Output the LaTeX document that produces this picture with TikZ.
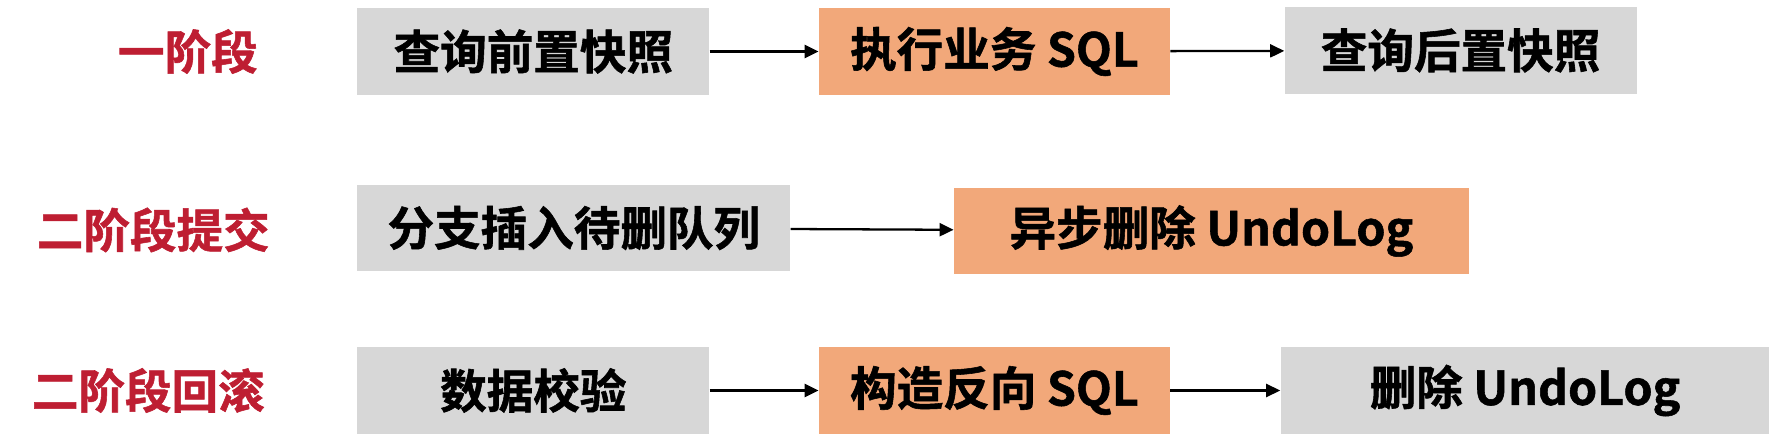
\documentclass[tikz,border=0pt]{standalone}
\usepackage{fontspec}
\setmainfont{Noto Sans CJK SC}[BoldFont={* Bold}, BoldFeatures={FakeBold=1.2}]
\usetikzlibrary{arrows.meta,positioning}
\definecolor{stepgray}{RGB}{215,215,215}
\definecolor{steporange}{RGB}{242,168,122}
\definecolor{phasered}{RGB}{190,30,50}

\begin{document}
\begin{tikzpicture}[
        x=0.02cm, y=-0.02cm,
        % Estilos das caixas
        box/.style={rectangle, minimum height=1.74cm, inner sep=0pt, align=center, font=\fontsize{26.5}{30}\selectfont\bfseries},
        graybox/.style={box, fill=stepgray},
        orangebox/.style={box, fill=steporange},
        % Estilo dos rótulos das fases
        phase/.style={font=\fontsize{26.5}{30}\selectfont\bfseries, text=phasered, inner sep=0pt, anchor=east},
        % Estilo das setas
        flowarrow/.style={-{Triangle[length=2.8mm, width=2.6mm]}, line width=1.3pt, draw=black}
    ]
    \useasboundingbox (0,0) rectangle (1779,442);

    % Primeira fase
    \node[graybox, minimum width=7.04cm, anchor=west] (snapbefore) at (357,51.5) {查询前置快照};
    \node[orangebox, minimum width=7.02cm, right=2.18cm of snapbefore] (bizsql) {执行业务 SQL};
    \node[graybox, minimum width=7.04cm, right=2.28cm of bizsql, yshift=0.02cm] (snapafter) {查询后置快照};

    % Segunda fase: commit
    \node[graybox, minimum width=8.66cm, anchor=west] (queue) at (357,228) {分支插入待删队列};
    \node[orangebox, minimum width=10.30cm, right=3.26cm of queue, yshift=-0.06cm] (asyncdel) {异步删除 UndoLog};

    % Segunda fase: rollback
    \node[graybox, minimum width=7.04cm, anchor=west] (check) at (357,390.5) {数据校验};
    \node[orangebox, minimum width=7.02cm, right=2.18cm of check] (undosql) {构造反向 SQL};
    \node[graybox, minimum width=9.78cm, right=2.20cm of undosql] (delundo) {删除 UndoLog};

    % Rótulos das fases
    \node[phase, left=1.98cm of snapbefore] (phaseone) {一阶段};
    \node[phase, left=1.74cm of queue, yshift=-0.04cm] (phasecommit) {二阶段提交};
    \node[phase, left=1.84cm of check] (phaserollback) {二阶段回滚};

    % ==========================================
    % Setas
    % ==========================================
    \draw[flowarrow] (snapbefore) -- (bizsql);
    \draw[flowarrow] (bizsql) -- (snapafter);
    \draw[flowarrow] (queue) -- (asyncdel);
    \draw[flowarrow] (check) -- (undosql);
    \draw[flowarrow] (undosql) -- (delundo);

\end{tikzpicture}
\end{document}
